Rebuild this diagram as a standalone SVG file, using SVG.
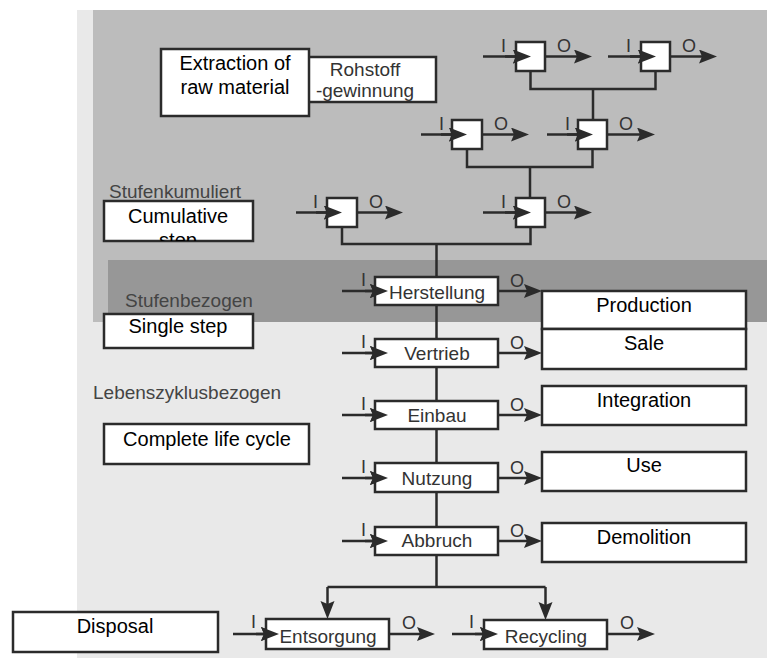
<svg xmlns="http://www.w3.org/2000/svg" width="767" height="659" viewBox="0 0 767 659">
<defs>
<style>
.bx{fill:#fff;stroke:#2b2b2b;stroke-width:2.5}
.ln{fill:none;stroke:#2b2b2b;stroke-width:2.5}
.ar{fill:none;stroke:#2b2b2b;stroke-width:2.5;marker-end:url(#ah)}
.en{font-family:"Liberation Sans",Arial,sans-serif;font-size:20px;fill:#000;text-anchor:middle}
.de{font-family:"Liberation Sans",Arial,sans-serif;font-size:19px;fill:#333;text-anchor:middle}
.gl{font-family:"Liberation Sans",Arial,sans-serif;font-size:19px;fill:#444}
.io{font-family:"Liberation Sans",Arial,sans-serif;font-size:18px;fill:#333}
</style>
<marker id="ah" markerUnits="userSpaceOnUse" markerWidth="20" markerHeight="16" refX="10" refY="7" orient="auto" viewBox="0 0 20 16">
<path d="M0,0 L18,7 L0,14 L3,7 z" fill="#2b2b2b"/>
</marker>
<clipPath id="cumclip"><rect x="104" y="201" width="149" height="40"/></clipPath>
</defs>

<g id="background">
<rect x="77" y="10" width="690" height="648" fill="#e9e9e9"/>
<rect x="93" y="10" width="674" height="312" fill="#bcbcbc"/>
<rect x="108" y="260" width="659" height="62" fill="#979797"/>
</g>

<g id="connectors">
<!-- row1 merge -->
<path class="ln" d="M530.5,71 V89 H655.5 V71 M593,89 V120"/>
<!-- row2 merge -->
<path class="ln" d="M467,149 V167 H592.5 V149 M530,167 V198"/>
<!-- row3 merge -->
<path class="ln" d="M342,227 V244 H530.5 V227 M436.5,244 V277"/>
<!-- main spine -->
<path class="ln" d="M436.5,305 V339 M436.5,367 V401 M436.5,429 V463 M436.5,492 V527 M436.5,555 V587 M327.5,587 H545.5"/>
<path class="ar" d="M327.5,587 V611"/>
<path class="ar" d="M545.5,587 V612"/>
<!-- small box inputs/outputs -->
<path class="ar" d="M483,56.5 H523"/>
<path class="ar" d="M545,56.5 H584"/>
<path class="ar" d="M608,56.5 H648"/>
<path class="ar" d="M670,56.5 H709"/>
<path class="ar" d="M421,134.5 H459"/>
<path class="ar" d="M482,134.5 H521"/>
<path class="ar" d="M547,134.5 H585"/>
<path class="ar" d="M607,134.5 H647"/>
<path class="ar" d="M296,212.5 H334"/>
<path class="ar" d="M357,212.5 H395"/>
<path class="ar" d="M483,212.5 H523"/>
<path class="ar" d="M545,212.5 H584"/>
<!-- process inputs/outputs -->
<path class="ar" d="M342,291 H380"/>
<path class="ar" d="M498,291 H534"/>
<path class="ar" d="M342,353 H380"/>
<path class="ar" d="M498,353 H534"/>
<path class="ar" d="M342,415 H380"/>
<path class="ar" d="M498,415 H534"/>
<path class="ar" d="M342,478 H380"/>
<path class="ar" d="M498,478 H534"/>
<path class="ar" d="M342,541 H380"/>
<path class="ar" d="M498,541 H534"/>
<path class="ar" d="M233,634 H271"/>
<path class="ar" d="M389,634 H427"/>
<path class="ar" d="M452,634 H490"/>
<path class="ar" d="M607,634 H647"/>
<!-- I / O labels -->
<g class="io">
<text x="501" y="52">I</text><text x="557" y="52">O</text>
<text x="626" y="52">I</text><text x="682" y="52">O</text>
<text x="439" y="130">I</text><text x="494" y="130">O</text>
<text x="565" y="130">I</text><text x="619" y="130">O</text>
<text x="313" y="208">I</text><text x="369" y="208">O</text>
<text x="501" y="208">I</text><text x="557" y="208">O</text>
<text x="361" y="286">I</text><text x="510" y="287">O</text>
<text x="361" y="348">I</text><text x="510" y="349">O</text>
<text x="361" y="410">I</text><text x="510" y="411">O</text>
<text x="361" y="473">I</text><text x="510" y="474">O</text>
<text x="361" y="536">I</text><text x="510" y="537">O</text>
<text x="251" y="628">I</text><text x="402" y="629">O</text>
<text x="469" y="628">I</text><text x="620" y="629">O</text>
</g>
</g>

<g id="rohstoff"><rect class="bx" x="307" y="57" width="129" height="45"/><text class="de" x="365" y="76">Rohstoff</text><text class="de" x="365" y="97">-gewinnung</text></g>
<g id="extraction"><rect class="bx" x="161" y="49" width="148" height="67"/><text class="en" x="235" y="70">Extraction of</text><text class="en" x="235" y="94">raw material</text></g>

<g id="label-stufenkumuliert"><text class="gl" x="109" y="198">Stufenkumuliert</text></g>
<g id="cumulative"><rect class="bx" x="104" y="201" width="149" height="40"/><text class="en" x="178" y="223">Cumulative</text><text class="en" x="178" y="247" clip-path="url(#cumclip)">step</text></g>
<g id="label-stufenbezogen"><text class="gl" x="125" y="307">Stufenbezogen</text></g>
<g id="single"><rect class="bx" x="104" y="314" width="149" height="34"/><text class="en" x="178" y="333">Single step</text></g>
<g id="label-lebenszyklus"><text class="gl" x="93" y="399">Lebenszyklusbezogen</text></g>
<g id="complete"><rect class="bx" x="104" y="424" width="205" height="40"/><text class="en" x="207" y="446">Complete life cycle</text></g>
<g id="disposal"><rect class="bx" x="13" y="612" width="205" height="40"/><text class="en" x="115" y="633">Disposal</text></g>

<g id="s1"><rect class="bx" x="516" y="42" width="29" height="29"/></g>
<g id="s2"><rect class="bx" x="641" y="42" width="29" height="29"/></g>
<g id="s3"><rect class="bx" x="452" y="120" width="30" height="29"/></g>
<g id="s4"><rect class="bx" x="578" y="120" width="29" height="29"/></g>
<g id="s5"><rect class="bx" x="327" y="198" width="30" height="29"/></g>
<g id="s6"><rect class="bx" x="516" y="198" width="29" height="29"/></g>

<g id="herstellung"><rect class="bx" x="375" y="277" width="123" height="28"/><text class="de" x="437" y="299">Herstellung</text></g>
<g id="vertrieb"><rect class="bx" x="375" y="339" width="123" height="28"/><text class="de" x="437" y="360">Vertrieb</text></g>
<g id="einbau"><rect class="bx" x="375" y="401" width="123" height="28"/><text class="de" x="437" y="422">Einbau</text></g>
<g id="nutzung"><rect class="bx" x="375" y="463" width="123" height="29"/><text class="de" x="437" y="485">Nutzung</text></g>
<g id="abbruch"><rect class="bx" x="375" y="527" width="123" height="28"/><text class="de" x="437" y="547">Abbruch</text></g>
<g id="entsorgung"><rect class="bx" x="266" y="619" width="123" height="30"/><text class="de" x="328" y="643">Entsorgung</text></g>
<g id="recycling"><rect class="bx" x="484" y="620" width="123" height="29"/><text class="de" x="546" y="643">Recycling</text></g>

<!-- redraw arrowheads that enter boxes on top -->
<g id="inner-arrows">
<path class="ar" d="M505,56.5 H523"/>
<path class="ar" d="M630,56.5 H648"/>
<path class="ar" d="M441,134.5 H459"/>
<path class="ar" d="M567,134.5 H585"/>
<path class="ar" d="M316,212.5 H334"/>
<path class="ar" d="M505,212.5 H523"/>
<path class="ar" d="M365,291 H380"/>
<path class="ar" d="M365,353 H380"/>
<path class="ar" d="M365,415 H380"/>
<path class="ar" d="M365,478 H380"/>
<path class="ar" d="M365,541 H380"/>
<path class="ar" d="M256,634 H271"/>
<path class="ar" d="M475,634 H490"/>
</g>

<g id="production"><rect class="bx" x="542" y="291" width="204" height="38"/><text class="en" x="644" y="312">Production</text></g>
<g id="sale"><rect class="bx" x="542" y="329" width="204" height="40"/><text class="en" x="644" y="350">Sale</text></g>
<g id="integration"><rect class="bx" x="542" y="386" width="204" height="39"/><text class="en" x="644" y="407">Integration</text></g>
<g id="use"><rect class="bx" x="542" y="452" width="204" height="39"/><text class="en" x="644" y="472">Use</text></g>
<g id="demolition"><rect class="bx" x="542" y="523" width="204" height="39"/><text class="en" x="644" y="544">Demolition</text></g>
</svg>
